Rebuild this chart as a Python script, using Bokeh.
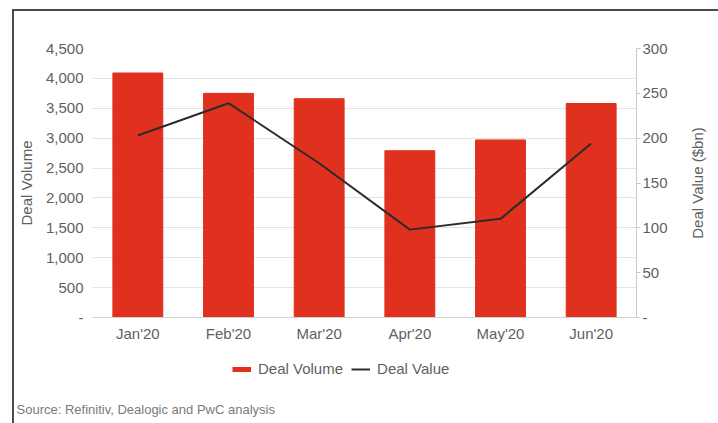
from bokeh.plotting import figure
from bokeh.layouts import column, row
from bokeh.models import (FactorRange, Range1d, LinearAxis, Legend, LegendItem, Title,
                          FixedTicker, NumeralTickFormatter)
from bokeh.embed import file_html
from bokeh.resources import INLINE

months = ["Jan'20", "Feb'20", "Mar'20", "Apr'20", "May'20", "Jun'20"]
deal_volume = [4090, 3750, 3660, 2790, 2970, 3580]
deal_value = [203, 239, 172, 98, 110, 194]
volume_ticks = [0, 500, 1000, 1500, 2000, 2500, 3000, 3500, 4000, 4500]
value_ticks = [0, 50, 100, 150, 200, 250, 300]
source_text = "Source: Refinitiv, Dealogic and PwC analysis"

FONT = "Liberation Sans"
TXT = "#5f5f5f"
RED = "#e0301e"
LINE = "#2b2b2b"

p = figure(x_range=FactorRange(*months), y_range=Range1d(0, 4500),
           width=672, height=341, output_backend="svg", toolbar_location=None,
           min_border_left=77, min_border_right=50, min_border_top=37, min_border_bottom=35)
p.outline_line_color = None
p.background_fill_color = "white"
p.border_fill_color = "white"

p.extra_y_ranges = {"val": Range1d(0, 300)}

bars = p.vbar(x=months, top=deal_volume, width=0.55, color=RED)
line = p.line(x=months, y=deal_value, y_range_name="val", line_color=LINE, line_width=2)

# left axis
ya = p.yaxis[0]
ya.ticker = FixedTicker(ticks=volume_ticks)
ya.formatter = NumeralTickFormatter(format="0,0")
ya.major_label_overrides = {0: "-"}
ya.axis_line_color = None
ya.major_tick_line_color = None
ya.minor_tick_line_color = None
ya.major_label_standoff = 3
ya.major_label_text_font = FONT
ya.major_label_text_font_size = "15px"
ya.major_label_text_color = TXT
ya.axis_label = "Deal Volume"
ya.axis_label_text_font = FONT
ya.axis_label_text_font_size = "15px"
ya.axis_label_text_font_style = "normal"
ya.axis_label_text_color = TXT
ya.axis_label_standoff = 8

# right axis (ticks and labels only; its title is drawn in the side strip)
ra = LinearAxis(y_range_name="val", ticker=FixedTicker(ticks=value_ticks))
ra.major_label_overrides = {0: "-"}
ra.axis_line_color = "#c8c8c8"
ra.major_tick_line_color = "#c8c8c8"
ra.major_tick_out = 4
ra.major_tick_in = 0
ra.minor_tick_line_color = None
ra.major_label_standoff = 2
ra.major_label_text_font = FONT
ra.major_label_text_font_size = "15px"
ra.major_label_text_color = TXT
p.add_layout(ra, "right")

# x axis
xa = p.xaxis[0]
xa.axis_line_color = "#d0d0d0"
xa.major_tick_line_color = None
xa.minor_tick_line_color = None
xa.major_label_standoff = 1
xa.major_label_text_font = FONT
xa.major_label_text_font_size = "15px"
xa.major_label_text_color = TXT

p.xgrid.grid_line_color = None
p.ygrid.ticker = FixedTicker(ticks=volume_ticks)
p.ygrid.grid_line_color = "#e4e4e4"

# narrow strip holding the right-hand axis title, reading bottom to top
g = figure(x_range=Range1d(0, 1), y_range=Range1d(0, 300),
           width=32, height=341, output_backend="svg", toolbar_location=None,
           x_axis_type=None, y_axis_type=None,
           min_border_left=0, min_border_right=0, min_border_top=37, min_border_bottom=35)
g.outline_line_color = None
g.xgrid.grid_line_color = None
g.ygrid.grid_line_color = None
g.background_fill_color = "white"
g.border_fill_color = "white"
g.add_layout(Title(text="Deal Value ($bn)", align="center", standoff=0,
                   text_font=FONT, text_font_size="15px", text_color=TXT,
                   text_font_style="normal"), "left")

# footer figure: legend + source note
f = figure(x_range=FactorRange(*months), y_range=Range1d(5000, 5001),
           width=704, height=71, output_backend="svg", toolbar_location=None,
           x_axis_type=None, y_axis_type=None,
           min_border_left=77, min_border_right=82, min_border_top=0, min_border_bottom=25)
f.outline_line_color = None
f.xgrid.grid_line_color = None
f.ygrid.grid_line_color = None
f.background_fill_color = "white"
f.border_fill_color = "white"
leg_vol = f.line(x=months, y=deal_volume, line_color=RED, line_width=5)
leg_val = f.line(x=months, y=deal_value, line_color=LINE, line_width=2)

legend = Legend(items=[LegendItem(label="Deal Volume", renderers=[leg_vol]),
                       LegendItem(label="Deal Value", renderers=[leg_val])],
                orientation="horizontal", location=(141, 21),
                glyph_width=19, glyph_height=16, label_standoff=7, spacing=8,
                padding=0, margin=0, border_line_color=None, background_fill_alpha=0,
                label_text_font=FONT, label_text_font_size="15px", label_text_color=TXT)
f.add_layout(legend, "center")

f.add_layout(Title(text=source_text, align="left", offset=-75, standoff=2,
                   text_font=FONT, text_font_size="13px", text_color="#7a7a7a",
                   text_font_style="normal"), "below")

layout = column(row(p, g, spacing=0), f, spacing=0)
layout.margin = (9, 0, 0, 12)
layout.styles = {"border-top": "2px solid #4a4a4a", "border-left": "2px solid #4a4a4a"}

open("out.html", "w").write(file_html(layout, INLINE))
